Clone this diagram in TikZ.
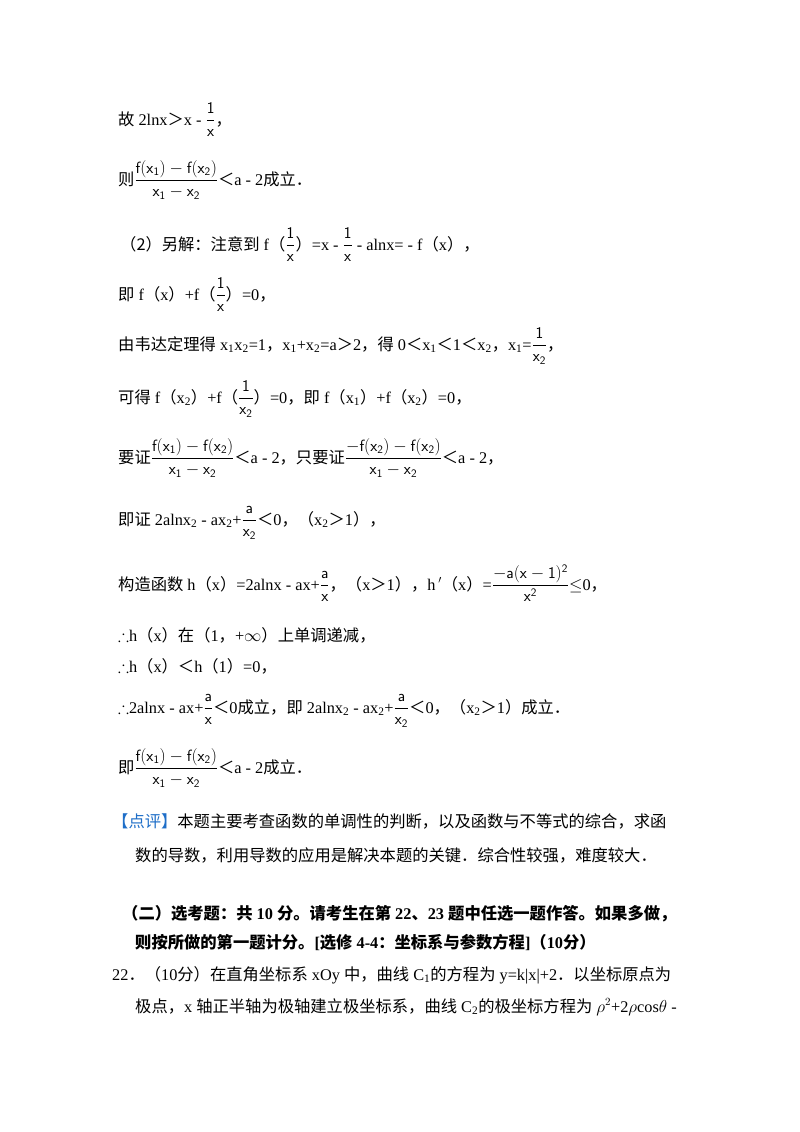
\documentclass[tikz,border=0pt]{standalone}
\usepackage{amsmath,amssymb}
\usepackage{fontspec}
\setmainfont{Liberation Serif}
\newfontfamily\cjk{Noto Sans CJK SC}
\newcommand\zh[1]{{\cjk #1}}
\newcommand\fr[2]{$\dfrac{\mathsf{#1}}{\mathsf{#2}}$}
\definecolor{pjblue}{RGB}{30,110,200}
\begin{document}
\begin{tikzpicture}[x=1pt,y=1pt,
  ln/.style={anchor=base west,inner sep=0pt,font=\fontsize{16.3}{19}\selectfont}]
\useasboundingbox[fill=white] (0,0) rectangle (800,-1132);
\node[ln] (l1) at (118,-125) {\zh{故} 2lnx\zh{＞}x - \fr{1}{x}\zh{，}};
\node[ln] (l2) at (118,-185) {\zh{则}\fr{f(x_1)-f(x_2)}{x_1-x_2}\zh{＜}a - 2\zh{成立．}};
\node[ln] (l3) at (120,-250) {\zh{（2）另解：注意到} f\zh{（}\fr{1}{x}\zh{）}=x - \fr{1}{x} - alnx= - f\zh{（}x\zh{），}};
\node[ln] (l4) at (118,-300) {\zh{即} f\zh{（}x\zh{）}+f\zh{（}\fr{1}{x}\zh{）}=0\zh{，}};
\node[ln] (l5) at (118,-350) {\zh{由韦达定理得} x\textsubscript{1}x\textsubscript{2}=1\zh{，}x\textsubscript{1}+x\textsubscript{2}=a\zh{＞}2\zh{，得} 0\zh{＜}x\textsubscript{1}\zh{＜}1\zh{＜}x\textsubscript{2}\zh{，}x\textsubscript{1}=\fr{1}{x_2}\zh{，}};
\node[ln] (l6) at (118,-403) {\zh{可得} f\zh{（}x\textsubscript{2}\zh{）}+f\zh{（}\fr{1}{x_2}\zh{）}=0\zh{，即} f\zh{（}x\textsubscript{1}\zh{）}+f\zh{（}x\textsubscript{2}\zh{）}=0\zh{，}};
\node[ln] (l7) at (118,-463) {\zh{要证}\fr{f(x_1)-f(x_2)}{x_1-x_2}\zh{＜}a - 2\zh{，只要证}\fr{-f(x_2)-f(x_2)}{x_1-x_2}\zh{＜}a - 2\zh{，}};
\node[ln] (l8) at (118,-525) {\zh{即证} 2alnx\textsubscript{2} - ax\textsubscript{2}+\fr{a}{x_2}\zh{＜}0\zh{，（}x\textsubscript{2}\zh{＞}1\zh{），}};
\node[ln] (l9) at (118,-590) {\zh{构造函数} h\zh{（}x\zh{）}=2alnx - ax+\fr{a}{x}\zh{，（}x\zh{＞}1\zh{），}h\,$'$\zh{（}x\zh{）}=\fr{-a(x-1)^2}{x^2}$\leq$0\zh{，}};
\node[ln] (l10) at (118,-641) {$\therefore$h\zh{（}x\zh{）在（}1\zh{，}+$\infty$\zh{）上单调递减，}};
\node[ln] (l11) at (118,-672) {$\therefore$h\zh{（}x\zh{）＜}h\zh{（}1\zh{）}=0\zh{，}};
\node[ln] (l12) at (118,-713) {$\therefore$2alnx - ax+\fr{a}{x}\zh{＜}0\zh{成立，即} 2alnx\textsubscript{2} - ax\textsubscript{2}+\fr{a}{x_2}\zh{＜}0\zh{，（}x\textsubscript{2}\zh{＞}1\zh{）成立．}};
\node[ln] (l13) at (118,-773) {\zh{即}\fr{f(x_1)-f(x_2)}{x_1-x_2}\zh{＜}a - 2\zh{成立．}};
\node[ln] (l14) at (112,-827) {\zh{\textcolor{pjblue}{【点评】}本题主要考查函数的单调性的判断，以及函数与不等式的综合，求函}};
\node[ln] (l15) at (135,-861) {\zh{数的导数，利用导数的应用是解决本题的关键．综合性较强，难度较大．}};
\node[ln] (l16) at (122,-919) {\bfseries\zh{（二）选考题：共} 10 \zh{分。请考生在第} 22\zh{、}23 \zh{题中任选一题作答。如果多做，}};
\node[ln] (l17) at (135,-948) {\bfseries\zh{则按所做的第一题计分。}[\zh{选修} 4-4\zh{：坐标系与参数方程}]\zh{（}10\zh{分）}};
\node[ln] (l18) at (112,-980) {22\zh{．（}10\zh{分）在直角坐标系} xOy \zh{中，曲线} C\textsubscript{1}\zh{的方程为} y=k|x|+2\zh{．以坐标原点为}};
\node[ln] (l19) at (135,-1012) {\zh{极点，}x \zh{轴正半轴为极轴建立极坐标系，曲线} C\textsubscript{2}\zh{的极坐标方程为} $\rho^2$+2$\rho$cos$\theta$ -};
\end{tikzpicture}
\end{document}
